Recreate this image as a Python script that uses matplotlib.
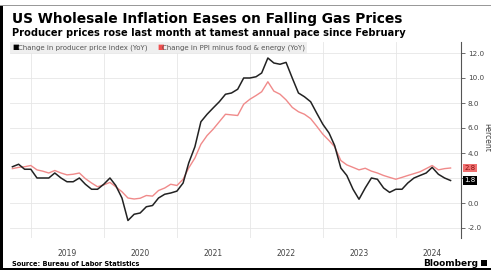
import matplotlib
matplotlib.use("Agg")
import matplotlib.pyplot as plt
import matplotlib.dates as mdates
import pandas as pd
import datetime as dt
from matplotlib.patches import Rectangle

# ---- data (monthly, Sep 2018 - Sep 2024, plotted at month end) ----
dates = pd.date_range("2018-09-30", "2024-09-30", freq="ME")
ppi = [2.9, 3.1, 2.7, 2.7, 2.0, 2.0, 2.0, 2.4, 2.0, 1.7, 1.7, 2.0,
       1.5, 1.1, 1.1, 1.5, 2.0, 1.4, 0.4, -1.4, -0.9, -0.8, -0.3, -0.2,
       0.4, 0.7, 0.8, 0.95, 1.6, 3.2, 4.5, 6.5, 7.1, 7.6, 8.1, 8.7,
       8.8, 9.1, 10.0, 10.0, 10.1, 10.4, 11.6, 11.2, 11.1, 11.25, 10.0, 8.8,
       8.5, 8.1, 7.2, 6.3, 5.6, 4.6, 2.8, 2.2, 1.1, 0.3, 1.2, 2.0,
       1.9, 1.2, 0.85, 1.1, 1.1, 1.6, 2.0, 2.2, 2.4, 2.85, 2.3, 2.0,
       1.8]
core = [2.75, 2.85, 2.9, 3.0, 2.65, 2.55, 2.4, 2.6, 2.4, 2.25, 2.3, 2.4,
        1.95, 1.6, 1.3, 1.45, 1.65, 1.3, 0.9, 0.4, 0.32, 0.38, 0.6, 0.55,
        1.0, 1.2, 1.5, 1.4, 1.9, 2.8, 3.6, 4.7, 5.4, 5.9, 6.5, 7.1,
        7.05, 7.0, 7.9, 8.3, 8.6, 8.9, 9.7, 8.95, 8.7, 8.25, 7.65, 7.3,
        7.1, 6.75, 6.15, 5.5, 5.0, 4.5, 3.4, 3.05, 2.85, 2.65, 2.78, 2.55,
        2.4, 2.2, 2.05, 1.9, 2.05, 2.2, 2.35, 2.5, 2.75, 3.0, 2.65, 2.75,
        2.8]
years = [2019, 2020, 2021, 2022, 2023, 2024]
yticks = [-2.0, 0.0, 2.0, 4.0, 6.0, 8.0, 10.0, 12.0]
labels = ["Change in producer price index (YoY)", "Change in PPI minus food & energy (YoY)"]
title = "US Wholesale Inflation Eases on Falling Gas Prices"
subtitle = "Producer prices rose last month at tamest annual pace since February"

BLACK = "#222222"
RED = "#f08a8a"

W, H = 491, 270
fig = plt.figure(figsize=(W / 100, H / 100), dpi=100)
ax = fig.add_axes([10 / W, 1 - 238 / H, (461 - 10) / W, (238 - 42) / H])

ax.plot(dates, core, color=RED, lw=1.0, zorder=3)
ax.plot(dates, ppi, color=BLACK, lw=1.1, zorder=4)

# x axis
j19 = mdates.date2num(dt.datetime(2019, 1, 1))
j24 = mdates.date2num(dt.datetime(2024, 1, 1))
ppy = (396 - 31) / 5.0
ax.set_xlim(j19 - 21 / ppy * 365.25, j24 + 65 / ppy * 365.25)
ax.set_xticks([mdates.date2num(dt.datetime(y, 1, 1)) for y in years])
ax.set_xticklabels([])
ax.set_xticks([mdates.date2num(dt.datetime(y, 7, 1)) for y in years], minor=True)
ax.set_xticklabels([str(y) for y in years], minor=True)
ax.tick_params(axis="x", which="major", length=0)
ax.tick_params(axis="x", which="minor", length=0, labelsize=5.5, labelcolor="#444444", pad=8)

# y axis (the 2.0 label is covered by the value boxes in the original)
ax.set_ylim(-2.8, 12.88)
ax.yaxis.tick_right()
ax.set_yticks(yticks)
ax.set_yticklabels(["" if v == 2.0 else f"{v:.1f}" for v in yticks])
ax.tick_params(axis="y", length=3, width=0.6, color="#555555", labelsize=5.2,
               labelcolor="#444444", pad=2)
ax.grid(True, which="major", color="#e6e6e6", lw=0.6)
for s in ["left", "top", "bottom"]:
    ax.spines[s].set_visible(False)
ax.spines["right"].set_color("#555555")
ax.spines["right"].set_linewidth(0.8)

fig.text(487 / W, 1 - 137 / H, "Percent", rotation=270, fontsize=5.5, color="#444444",
         ha="center", va="center")

# value labels
ax.annotate(f"{core[-1]:.1f}", xy=(1.0, core[-1]), xycoords=("axes fraction", "data"),
            xytext=(2.5, 0), textcoords="offset points", fontsize=5.0, color="#8a1010",
            va="center", ha="left",
            bbox=dict(boxstyle="square,pad=0.15", fc="#f07070", ec="none"))
ax.annotate(f"{ppi[-1]:.1f}", xy=(1.0, ppi[-1]), xycoords=("axes fraction", "data"),
            xytext=(2.5, 0), textcoords="offset points", fontsize=5.0, color="white",
            va="center", ha="left",
            bbox=dict(boxstyle="square,pad=0.15", fc="black", ec="none"))

# legend (custom)
fig.patches.append(Rectangle((10 / W, 1 - 53 / H), 297 / W, 11 / H, transform=fig.transFigure,
                             fc="#efefef", ec="none", zorder=1))
fig.text(12 / W, 1 - 47.5 / H, "■", fontsize=5, color="black", va="center")
fig.text(17.5 / W, 1 - 47.5 / H, labels[0], fontsize=5.0, color="#555555", va="center")
fig.text(157 / W, 1 - 47.5 / H, "■", fontsize=5, color="#f05050", va="center")
fig.text(162.5 / W, 1 - 47.5 / H, labels[1], fontsize=5.0, color="#555555", va="center")

# titles
fig.text(12 / W, 1 - 18.5 / H, title, fontsize=9.9, fontweight="bold", color="black", va="center")
fig.text(12 / W, 1 - 32.5 / H, subtitle, fontsize=7.1, fontweight="bold", color="black", va="center")
fig.text(12 / W, 1 - 264 / H, "Source: Bureau of Labor Statistics", fontsize=4.8,
         fontweight="bold", color="black", va="center")
fig.text(478 / W, 1 - 263 / H, "Bloomberg", fontsize=6.5, fontweight="bold", color="black",
         va="center", ha="right")
fig.patches.append(Rectangle((481 / W, 1 - 266 / H), 6 / W, 6 / H, transform=fig.transFigure,
                             fc="black", ec="none"))

# frame
fig.patches.append(Rectangle((0, 0), 3 / W, 1 - 5 / H, transform=fig.transFigure, fc="black", ec="none"))
fig.patches.append(Rectangle((0, 0), 1, 2 / H, transform=fig.transFigure, fc="black", ec="none"))
fig.patches.append(Rectangle((0, 1 - 5.5 / H), 1, 1 / H, transform=fig.transFigure, fc="#999999", ec="none"))

fig.savefig("out.png", dpi=100)
